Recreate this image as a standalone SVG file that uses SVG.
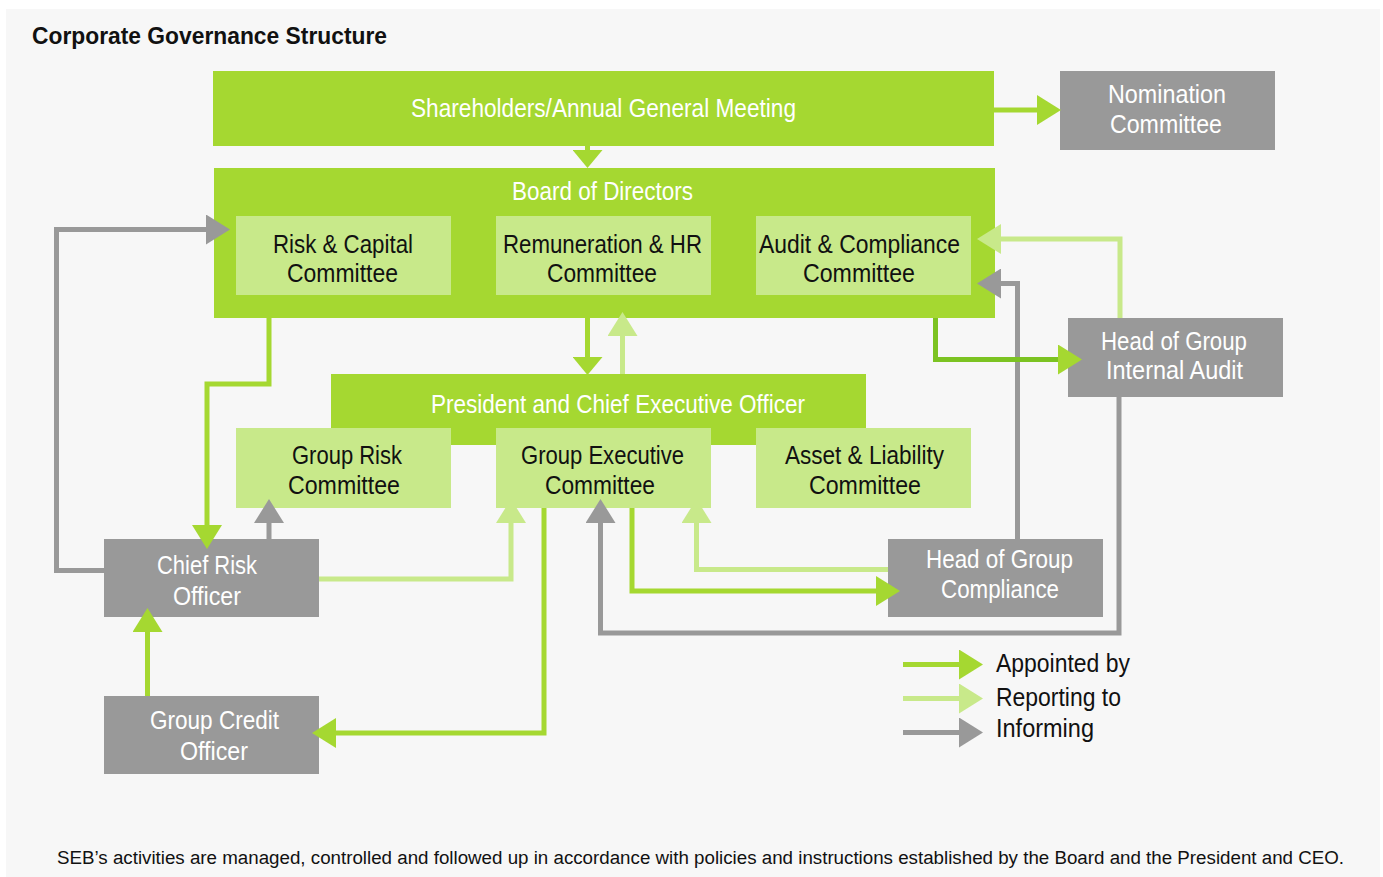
<svg xmlns="http://www.w3.org/2000/svg" width="1383" height="877" viewBox="0 0 1383 877">
<style>
  .t { font-family: "Liberation Sans Narrow", "Liberation Sans", Arial, sans-serif; font-size: 25px; text-anchor: middle; }
  .w { fill: #ffffff; }
  .k { fill: #111111; }
  .green { fill: #a5d831; }
  .lgreen { fill: #c8e98a; }
  .gray { fill: #999999; }
  .c { fill: none; stroke-width: 5; stroke-linejoin: miter; stroke-linecap: butt; }
  .ca { stroke: #a5d831; marker-end: url(#mA); }
  .cas { stroke: #a5d831; marker-end: url(#mAs); }
  .cad { stroke: #7cc322; marker-end: url(#mA); }
  .cr { stroke: #c8e98a; marker-end: url(#mR); }
  .ci { stroke: #999999; marker-end: url(#mI); }
</style>
<defs>
  <marker id="mA" markerUnits="userSpaceOnUse" viewBox="0 0 24 30" refX="0" refY="15" markerWidth="24" markerHeight="30" orient="auto"><path d="M0,0 L24,15 L0,30 Z" fill="#a5d831"/></marker>
  <marker id="mAs" markerUnits="userSpaceOnUse" viewBox="0 0 18 30" refX="0" refY="15" markerWidth="18" markerHeight="30" orient="auto"><path d="M0,0 L18,15 L0,30 Z" fill="#a5d831"/></marker>
  <marker id="mR" markerUnits="userSpaceOnUse" viewBox="0 0 24 30" refX="0" refY="15" markerWidth="24" markerHeight="30" orient="auto"><path d="M0,0 L24,15 L0,30 Z" fill="#c8e98a"/></marker>
  <marker id="mI" markerUnits="userSpaceOnUse" viewBox="0 0 24 30" refX="0" refY="15" markerWidth="24" markerHeight="30" orient="auto"><path d="M0,0 L24,15 L0,30 Z" fill="#999999"/></marker>
</defs>
<rect x="0" y="0" width="1383" height="877" fill="#ffffff"/>
<rect x="6" y="9" width="1374" height="868" fill="#f7f7f7"/>
<text x="32" y="44" font-family="Liberation Sans Narrow, Liberation Sans, Arial, sans-serif" font-size="24" font-weight="700" fill="#111111" textLength="355" lengthAdjust="spacingAndGlyphs">Corporate Governance Structure</text>

<g id="shareholders">
  <rect class="green" x="213" y="71" width="781" height="75"/>
  <text class="t w" x="603.5" y="117" font-size="26" textLength="385" lengthAdjust="spacingAndGlyphs">Shareholders/Annual General Meeting</text>
</g>
<g id="nomination">
  <rect class="gray" x="1060" y="71" width="215" height="79"/>
  <text class="t w" x="1167" y="103" textLength="118" lengthAdjust="spacingAndGlyphs">Nomination</text>
  <text class="t w" x="1166" y="133" textLength="112" lengthAdjust="spacingAndGlyphs">Committee</text>
</g>
<g id="board">
  <rect class="green" x="214" y="168" width="781" height="150"/>
  <text class="t w" x="602.5" y="200" font-size="24" textLength="181" lengthAdjust="spacingAndGlyphs">Board of Directors</text>
</g>
<g id="risk-capital">
  <rect class="lgreen" x="236" y="216" width="215" height="79"/>
  <text class="t k" x="343" y="253" textLength="140" lengthAdjust="spacingAndGlyphs">Risk &amp; Capital</text>
  <text class="t k" x="342.5" y="282" textLength="111" lengthAdjust="spacingAndGlyphs">Committee</text>
</g>
<g id="remuneration">
  <rect class="lgreen" x="496" y="216" width="215" height="79"/>
  <text class="t k" x="602.5" y="253" textLength="199" lengthAdjust="spacingAndGlyphs">Remuneration &amp; HR</text>
  <text class="t k" x="602" y="282" textLength="110" lengthAdjust="spacingAndGlyphs">Committee</text>
</g>
<g id="audit-compliance">
  <rect class="lgreen" x="756" y="216" width="215" height="79"/>
  <text class="t k" x="859.5" y="253" textLength="201" lengthAdjust="spacingAndGlyphs">Audit &amp; Compliance</text>
  <text class="t k" x="859" y="282" textLength="112" lengthAdjust="spacingAndGlyphs">Committee</text>
</g>
<g id="ceo">
  <rect class="green" x="331" y="374" width="535" height="71"/>
  <text class="t w" x="618" y="413" textLength="374" lengthAdjust="spacingAndGlyphs">President and Chief Executive Officer</text>
</g>
<g id="group-risk">
  <rect class="lgreen" x="236" y="428" width="215" height="80"/>
  <text class="t k" x="347" y="464" textLength="110" lengthAdjust="spacingAndGlyphs">Group Risk</text>
  <text class="t k" x="344" y="494" textLength="112" lengthAdjust="spacingAndGlyphs">Committee</text>
</g>
<g id="group-executive">
  <rect class="lgreen" x="496" y="428" width="215" height="80"/>
  <text class="t k" x="602.5" y="464" textLength="163" lengthAdjust="spacingAndGlyphs">Group Executive</text>
  <text class="t k" x="600" y="494" textLength="110" lengthAdjust="spacingAndGlyphs">Committee</text>
</g>
<g id="asset-liability">
  <rect class="lgreen" x="756" y="428" width="215" height="80"/>
  <text class="t k" x="864.5" y="464" textLength="159" lengthAdjust="spacingAndGlyphs">Asset &amp; Liability</text>
  <text class="t k" x="865" y="494" textLength="112" lengthAdjust="spacingAndGlyphs">Committee</text>
</g>
<g id="internal-audit">
  <rect class="gray" x="1068" y="318" width="215" height="79"/>
  <text class="t w" x="1174" y="350" textLength="146" lengthAdjust="spacingAndGlyphs">Head of Group</text>
  <text class="t w" x="1174.5" y="379" textLength="137" lengthAdjust="spacingAndGlyphs">Internal Audit</text>
</g>
<g id="chief-risk">
  <rect class="gray" x="104" y="539" width="215" height="78"/>
  <text class="t w" x="207" y="574" textLength="100" lengthAdjust="spacingAndGlyphs">Chief Risk</text>
  <text class="t w" x="207" y="605" textLength="68" lengthAdjust="spacingAndGlyphs">Officer</text>
</g>
<g id="compliance">
  <rect class="gray" x="888" y="539" width="215" height="78"/>
  <text class="t w" x="999.5" y="568" textLength="147" lengthAdjust="spacingAndGlyphs">Head of Group</text>
  <text class="t w" x="1000" y="598" textLength="118" lengthAdjust="spacingAndGlyphs">Compliance</text>
</g>
<g id="credit">
  <rect class="gray" x="104" y="696" width="215" height="78"/>
  <text class="t w" x="214.5" y="729" textLength="129" lengthAdjust="spacingAndGlyphs">Group Credit</text>
  <text class="t w" x="214" y="760" textLength="68" lengthAdjust="spacingAndGlyphs">Officer</text>
</g>

<g id="connectors">
  <path class="c ca" d="M994,110 H1037"/>
  <path class="c cas" d="M587.5,146 V150"/>
  <path class="c cas" d="M587.5,318 V357"/>
  <path class="c cr" d="M622.5,374 V336"/>
  <path class="c ci" d="M104,570.5 H56.5 V229.5 H206"/>
  <path class="c ca" d="M269,318 V384 H207 V525"/>
  <path class="c ci" d="M269,539 V523"/>
  <path class="c cr" d="M319,579 H511 V523"/>
  <path class="c ca" d="M147.5,696 V632"/>
  <path class="c ca" d="M544,508 V733 H336"/>
  <path class="c ca" d="M632,508 V591 H876"/>
  <path class="c cr" d="M888,569.5 H696.5 V523"/>
  <path class="c ci" d="M1119,397 V633 H600.5 V523"/>
  <path class="c ci" d="M1017.5,539 V283.5 H1001"/>
  <path class="c cr" d="M1120,318 V239 H1001"/>
  <path class="c cad" d="M935.5,318 V359.5 H1058"/>
</g>

<g id="legend">
  <path class="c ca" d="M903,664.5 H959"/>
  <path class="c cr" d="M903,698.5 H959"/>
  <path class="c ci" d="M903,732.5 H959"/>
  <text class="k" x="996" y="672" font-family="Liberation Sans Narrow, Liberation Sans, Arial, sans-serif" font-size="25" textLength="134" lengthAdjust="spacingAndGlyphs">Appointed by</text>
  <text class="k" x="996" y="706" font-family="Liberation Sans Narrow, Liberation Sans, Arial, sans-serif" font-size="25" textLength="125" lengthAdjust="spacingAndGlyphs">Reporting to</text>
  <text class="k" x="996" y="737" font-family="Liberation Sans Narrow, Liberation Sans, Arial, sans-serif" font-size="25" textLength="98" lengthAdjust="spacingAndGlyphs">Informing</text>
</g>

<text x="57" y="864" font-family="Liberation Sans Narrow, Liberation Sans, Arial, sans-serif" font-size="18" fill="#111111" textLength="1287" lengthAdjust="spacingAndGlyphs">SEB’s activities are managed, controlled and followed up in accordance with policies and instructions established by the Board and the President and CEO.</text>
</svg>
